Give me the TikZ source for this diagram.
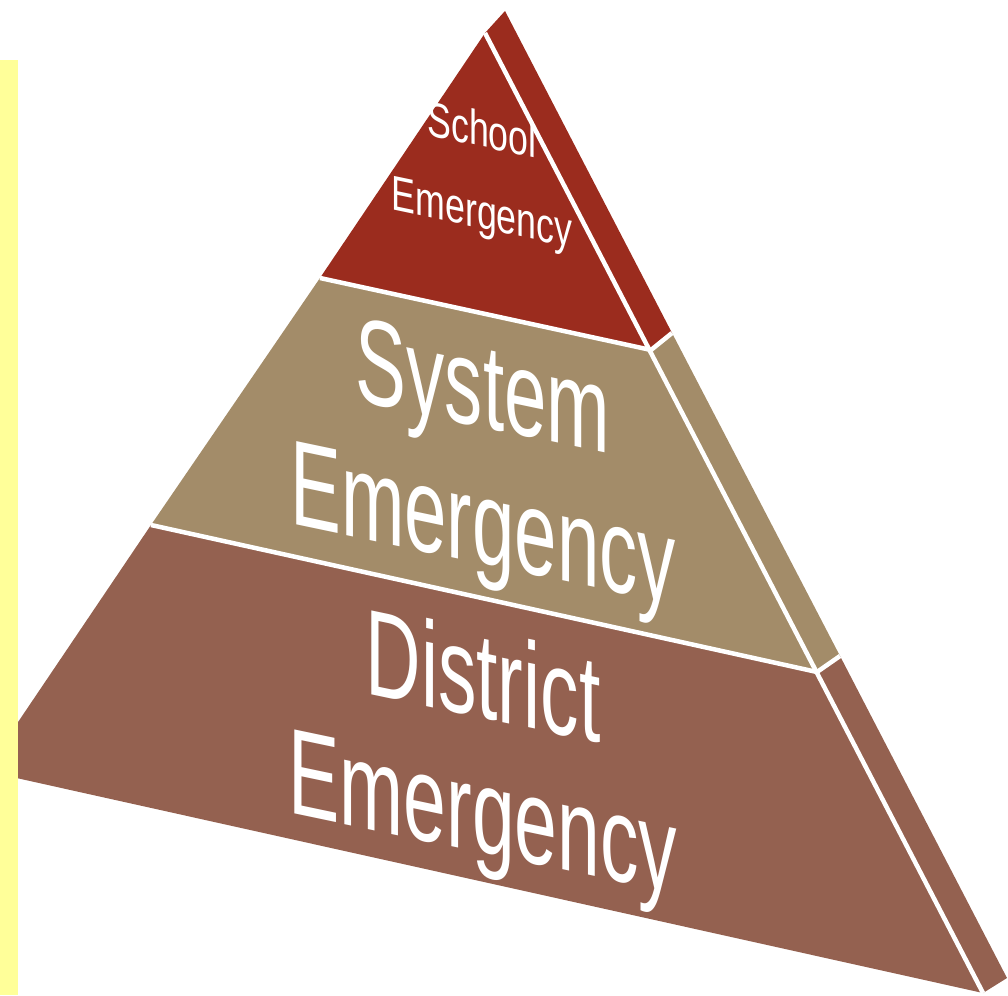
\documentclass[tikz,border=0pt]{standalone}
\usepackage{fontspec}
\setmainfont{Liberation Sans}
\usetikzlibrary{positioning}
\usepackage{xcolor}
\definecolor{schoolred}{HTML}{9B2C1E}
\definecolor{systemtan}{HTML}{A38C69}
\definecolor{districtbrown}{HTML}{946150}
\definecolor{noteyellow}{HTML}{FFFF99}

\tikzset{
  tierlabel/.style={text=white, align=center, inner sep=0pt, yslant=-0.21},
  gapline/.style={white, line width=4.5pt, line join=round},
}

\begin{document}
\begin{tikzpicture}[x=1pt, y=-1pt]
            \useasboundingbox (0,0) rectangle (1008,995);
            \clip (0,0) rectangle (1008,995);

            % corners of the front face
            \coordinate (apex) at (485,33);
            \coordinate (f1) at (651,350);
            \coordinate (f2) at (817,672);
            \coordinate (f3) at (983,993);
            \coordinate (l1) at (320,278);
            \coordinate (l2) at (151,525);
            \coordinate (l3) at (-15,771);
            % corners of the side face
            \coordinate (s0) at (505,11);
            \coordinate (s1) at (672,333);
            \coordinate (s2) at (840,656);
            \coordinate (s3) at (1007,978);

            % tiers
            \fill[schoolred] (apex) -- (f1) -- (l1) -- cycle;
            \fill[schoolred] (apex) -- (s0) -- (s1) -- (f1) -- cycle;
            \fill[systemtan] (l1) -- (f1) -- (f2) -- (l2) -- cycle;
            \fill[systemtan] (f1) -- (s1) -- (s2) -- (f2) -- cycle;
            \fill[districtbrown] (l2) -- (f2) -- (f3) -- (l3) -- cycle;
            \fill[districtbrown] (f2) -- (s2) -- (s3) -- (f3) -- cycle;

            \draw[gapline] (l1) -- (f1) -- (s1);
            \draw[gapline] (l2) -- (f2) -- (s2);
            \draw[gapline] (apex) -- (f3);

            \node[tierlabel, xscale=0.73, font=\fontsize{49}{82}\selectfont] (school) at (482,175) {School\\Emergency};
            \node[tierlabel, xscale=0.63, font=\fontsize{121}{137}\selectfont] (system) at (483,466) {System\\Emergency};
            \node[tierlabel, xscale=0.63, font=\fontsize{122}{135}\selectfont] (district) at (483,754) {District\\Emergency};

            \fill[noteyellow] (0,60) rectangle (18,995);
        \end{tikzpicture}
\end{document}
